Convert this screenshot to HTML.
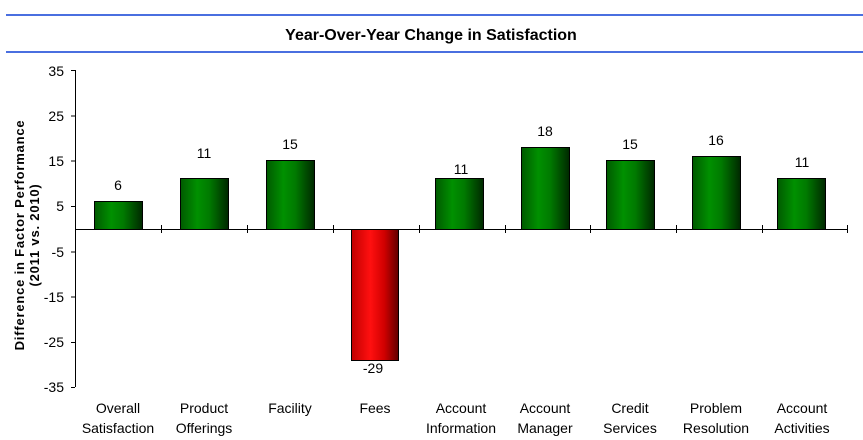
<!DOCTYPE html>
<html><head><style>body{margin:0;background:#fff}svg{display:block}</style></head><body>
<svg width="863" height="440" xmlns="http://www.w3.org/2000/svg" font-family="Liberation Sans, Arial, sans-serif">
<defs>
<linearGradient id="g" x1="0" x2="1"><stop offset="0" stop-color="#005a00"/><stop offset="0.35" stop-color="#009000"/><stop offset="0.6" stop-color="#007a00"/><stop offset="1" stop-color="#002800"/></linearGradient>
<linearGradient id="r" x1="0" x2="1"><stop offset="0" stop-color="#c00000"/><stop offset="0.4" stop-color="#ff1010"/><stop offset="0.7" stop-color="#d00000"/><stop offset="1" stop-color="#600000"/></linearGradient>
</defs>
<rect x="6" y="14" width="857" height="2" fill="#4a6fe0"/>
<rect x="6" y="51" width="857" height="2" fill="#4a6fe0"/>
<text x="431" y="40" text-anchor="middle" font-size="16" font-weight="bold">Year-Over-Year Change in Satisfaction</text>
<text transform="translate(24,235) rotate(-90)" text-anchor="middle" font-size="13" font-weight="bold" letter-spacing="0.8">Difference in Factor Performance</text>
<text transform="translate(39,235) rotate(-90)" text-anchor="middle" font-size="13" font-weight="bold" letter-spacing="0.8">(2011 vs. 2010)</text>
<g stroke="#000" stroke-width="1">
<line x1="75.5" y1="70" x2="75.5" y2="387"/>
<line x1="75" y1="229.5" x2="847" y2="229.5"/>
</g>
<g font-size="14" text-anchor="end">
<text x="64" y="76">35</text><text x="64" y="121">25</text><text x="64" y="166">15</text><text x="64" y="211">5</text><text x="64" y="257">-5</text><text x="64" y="302">-15</text><text x="64" y="347">-25</text><text x="64" y="392">-35</text>
</g>
<g stroke="#000">
<path d="M71 70.5h4M71 116h4M71 161h4M71 206.5h4M71 252h4M71 297h4M71 342.5h4M71 387.5h4"/>
<path d="M161.5 225v8M247.5 225v8M333.5 225v8M419.5 225v8M505.5 225v8M590.5 225v8M676.5 225v8M762.5 225v8M847.5 225v8"/>
</g>
<g stroke="#000" stroke-width="1">
<rect x="94.5" y="201.5" width="48" height="28" fill="url(#g)"/>
<rect x="180.5" y="178.5" width="48" height="51" fill="url(#g)"/>
<rect x="266.5" y="160.5" width="48" height="69" fill="url(#g)"/>
<rect x="351.5" y="229.5" width="47" height="131" fill="url(#r)"/>
<rect x="435.5" y="178.5" width="48" height="51" fill="url(#g)"/>
<rect x="521.5" y="147.5" width="48" height="82" fill="url(#g)"/>
<rect x="606.5" y="160.5" width="48" height="69" fill="url(#g)"/>
<rect x="692.5" y="156.5" width="48" height="73" fill="url(#g)"/>
<rect x="777.5" y="178.5" width="48" height="51" fill="url(#g)"/>
</g>
<g font-size="14" text-anchor="middle">
<text x="118" y="190">6</text><text x="204" y="158">11</text><text x="290" y="149">15</text><text x="373" y="373">-29</text>
<text x="461" y="174">11</text><text x="545" y="136">18</text><text x="630" y="149">15</text><text x="716" y="145">16</text><text x="802" y="167">11</text>
</g>
<g font-size="14" text-anchor="middle">
<text x="118" y="413">Overall</text><text x="118" y="433">Satisfaction</text>
<text x="204" y="413">Product</text><text x="204" y="433">Offerings</text>
<text x="290" y="413">Facility</text>
<text x="375" y="413">Fees</text>
<text x="461" y="413">Account</text><text x="461" y="433">Information</text>
<text x="545" y="413">Account</text><text x="545" y="433">Manager</text>
<text x="630" y="413">Credit</text><text x="630" y="433">Services</text>
<text x="716" y="413">Problem</text><text x="716" y="433">Resolution</text>
<text x="802" y="413">Account</text><text x="802" y="433">Activities</text>
</g>
</svg>
</body></html>
